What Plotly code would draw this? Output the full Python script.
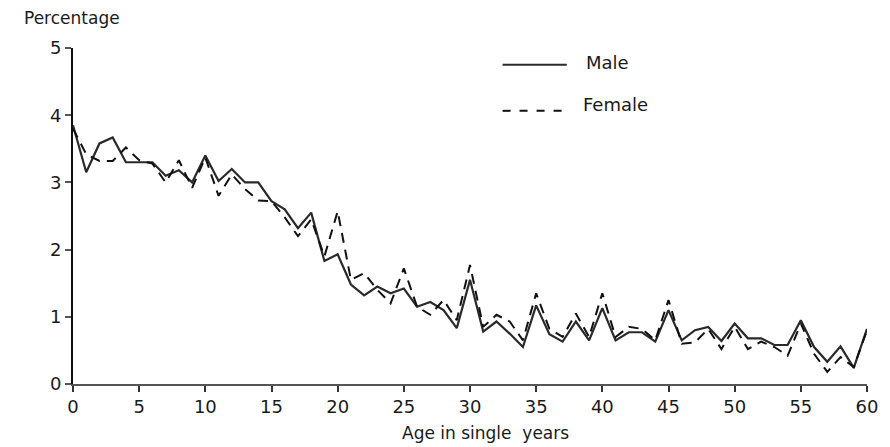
import plotly.graph_objects as go

# Age in single years and percentage distribution by sex
ages = list(range(0, 61))

male = [3.85, 3.15, 3.58, 3.67, 3.30, 3.30, 3.30, 3.10, 3.18, 3.00,
        3.40, 3.02, 3.20, 3.00, 3.00, 2.72, 2.60, 2.32, 2.55, 1.83,
        1.93, 1.48, 1.32, 1.45, 1.35, 1.42, 1.15, 1.22, 1.10, 0.83,
        1.55, 0.78, 0.93, 0.75, 0.55, 1.17, 0.74, 0.63, 0.93, 0.65,
        1.13, 0.65, 0.77, 0.77, 0.63, 1.10, 0.65, 0.80, 0.85, 0.64,
        0.90, 0.68, 0.68, 0.58, 0.58, 0.95, 0.55, 0.33, 0.56, 0.24,
        0.82]

female = [3.80, 3.42, 3.32, 3.32, 3.52, 3.33, 3.28, 3.00, 3.33, 2.92,
          3.37, 2.80, 3.12, 2.90, 2.73, 2.72, 2.48, 2.20, 2.45, 1.90,
          2.57, 1.55, 1.65, 1.40, 1.20, 1.72, 1.15, 1.03, 1.25, 0.95,
          1.77, 0.85, 1.03, 0.93, 0.65, 1.35, 0.82, 0.70, 1.05, 0.70,
          1.35, 0.70, 0.85, 0.82, 0.65, 1.25, 0.60, 0.62, 0.82, 0.52,
          0.85, 0.52, 0.63, 0.55, 0.42, 0.90, 0.45, 0.18, 0.40, 0.25,
          0.80]

x_ticks = [0, 5, 10, 15, 20, 25, 30, 35, 40, 45, 50, 55, 60]
y_ticks = [0, 1, 2, 3, 4, 5]

FONT = "DejaVu Sans"
INK = "#1a1a1a"

fig = go.Figure()
fig.add_trace(go.Scatter(x=ages, y=male, mode="lines", name="Male",
                         line=dict(color="#2a2a2a", width=2.2)))
fig.add_trace(go.Scatter(x=ages, y=female, mode="lines", name="Female",
                         line=dict(color="#111111", width=2, dash="10px,7px")))

# Hand-drawn style key in the upper right
key_x0, key_x1 = 0.541, 0.622
fig.add_shape(type="line", xref="paper", yref="paper",
              x0=key_x0, x1=key_x1, y0=0.95, y1=0.95,
              line=dict(color="#2a2a2a", width=2))
fig.add_shape(type="line", xref="paper", yref="paper",
              x0=key_x0, x1=key_x1, y0=0.813, y1=0.813,
              line=dict(color="#111111", width=2, dash="8px,9px"))
fig.add_annotation(text="Male", xref="paper", yref="paper", x=0.643, y=0.957,
                   xanchor="left", yanchor="middle", showarrow=False,
                   font=dict(family=FONT, size=18, color=INK))
fig.add_annotation(text="Female", xref="paper", yref="paper", x=0.640, y=0.833,
                   xanchor="left", yanchor="middle", showarrow=False,
                   font=dict(family=FONT, size=18, color=INK))

fig.add_annotation(text="Percentage", xref="paper", yref="paper",
                   x=-0.064, y=1.09, xanchor="left", yanchor="middle",
                   showarrow=False, font=dict(family=FONT, size=17, color=INK))
fig.add_annotation(text="Age in single&nbsp;&nbsp;years", xref="paper", yref="paper",
                   x=0.519, y=-0.145, xanchor="center", yanchor="middle",
                   showarrow=False, font=dict(family=FONT, size=17, color=INK))

fig.update_xaxes(range=[0, 60], tickvals=x_ticks, ticktext=[str(v) for v in x_ticks],
                 showgrid=False, zeroline=False, showline=True,
                 linecolor="#555555", linewidth=1.5,
                 ticks="outside", ticklen=6, tickwidth=1.5, tickcolor="#333333",
                 tickfont=dict(family=FONT, size=18, color=INK))
fig.update_yaxes(range=[0, 5], tickvals=y_ticks, ticktext=[str(v) for v in y_ticks],
                 showgrid=False, zeroline=False, showline=True,
                 linecolor="#111111", linewidth=1.8,
                 ticks="outside", ticklen=6, tickwidth=1.5, tickcolor="#555555",
                 tickfont=dict(family=FONT, size=18, color=INK))

fig.update_layout(width=890, height=447,
                  margin=dict(l=73, r=13, t=48, b=63),
                  paper_bgcolor="white", plot_bgcolor="white",
                  showlegend=False)

fig.write_html("out.html")
